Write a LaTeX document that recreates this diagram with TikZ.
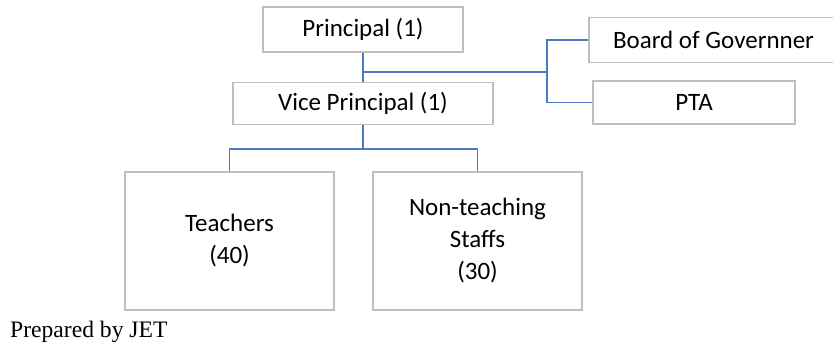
\documentclass[tikz,border=0pt]{standalone}
\usepackage{fontspec}
\setmainfont{Carlito}
\newfontfamily\notefont{Liberation Serif}
\definecolor{boxgray}{HTML}{BFBFBF}
\definecolor{linkblue}{HTML}{4A7BC4}
\begin{document}
\begin{tikzpicture}[x=1pt,y=-1pt,
  orgbox/.style={draw=boxgray, line width=1.4pt, fill=white, rectangle,
    inner sep=0pt, align=center, font=\fontsize{25}{32}\selectfont},
  link/.style={draw=linkblue, line width=1.4pt}]
\useasboundingbox (0,0) rectangle (833,347);

% top level and advisory bodies
\node[orgbox, minimum width=200pt, minimum height=45pt] (principal) at (363,29.5) {Principal (1)};
\node[orgbox, minimum width=260pt, minimum height=42pt] (vice) at (363,103.5) {Vice Principal (1)};
\node[orgbox, minimum width=249pt, minimum height=45pt] (board) at (713.5,40) {Board of Governner};
\node[orgbox, minimum width=202pt, minimum height=43pt] (pta) at (694,102.5) {PTA};

% staff
\node[orgbox, minimum width=209pt, minimum height=138pt] (teachers) at (229.5,241) {Teachers\\(40)};
\node[orgbox, minimum width=209pt, minimum height=138pt] (nonteach) at (477.5,241) {Non-teaching\\Staffs\\(30)};

% connectors
\coordinate (hj) at (547,72);
\coordinate (vj) at (363,149);
\draw[link] (principal.south) -- (vice.north);
\draw[link] (principal.south |- hj) -- (hj);
\draw[link] (board.west) -- (board.west -| hj) -- (pta.west -| hj) -- (pta.west);
\draw[link] (vice.south) -- (vj);
\draw[link] (teachers.north) |- (vj) -| (nonteach.north);

\node[anchor=base west, inner sep=0pt, font=\notefont\fontsize{23.6}{28}\selectfont] (note) at (10,338) {Prepared by JET};
\end{tikzpicture}
\end{document}
